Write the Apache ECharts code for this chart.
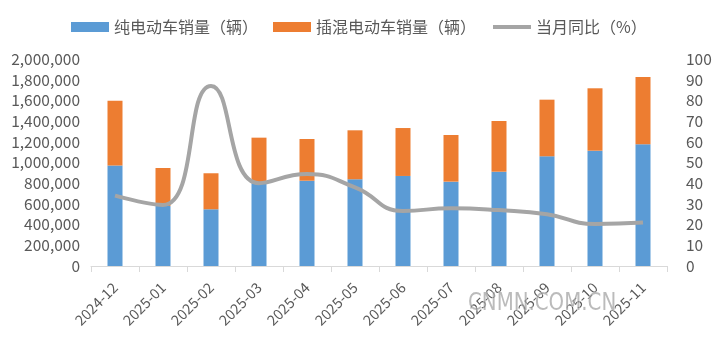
<!DOCTYPE html>
<html><head><meta charset="utf-8">
<script src="https://cdn.jsdelivr.net/npm/echarts@6/dist/echarts.min.js"></script>
<style>html,body{margin:0;padding:0;background:#fff}#c{width:720px;height:339px}</style>
</head><body><div id="c"></div>
<script>
const categories = ['2024-12','2025-01','2025-02','2025-03','2025-04','2025-05','2025-06','2025-07','2025-08','2025-09','2025-10','2025-11'];
const bevSales = [970000,580000,548000,799000,824000,838000,870000,815000,911000,1060000,1114000,1176000];
const phevSales = [627000,367000,348000,441000,403000,473000,463000,451000,490000,547000,603000,650000];
const yoyPct = [34,29.5,87,40,44.4,38,26.6,27.9,27,25,20.3,21];
const leftTicks = [0,2000000,200000];
const rightTicks = [0,100,10];
const names = ['纯电动车销量（辆）','插混电动车销量（辆）','当月同比（%）'];

const font = '"Noto Sans CJK SC", "Noto Sans", sans-serif';
const chart = echarts.init(document.getElementById('c'));
chart.setOption({
  animation:false,
  textStyle:{fontFamily:font},
  legend:{
    top:14, left:66, itemWidth:38, itemHeight:10, itemGap:15,
    textStyle:{fontSize:16, color:'#595959', fontFamily:font},
    data:[{name:names[0],icon:'rect'},{name:names[1],icon:'rect'},
          {name:names[2], itemStyle:{opacity:0}, lineStyle:{width:4, color:'#A5A5A5'}}]
  },
  grid:{left:91, right:53, top:59, bottom:73},
  xAxis:{
    type:'category', data:categories, boundaryGap:true,
    axisLine:{lineStyle:{color:'#D9D9D9'}},
    axisTick:{show:true, length:6, lineStyle:{color:'#D9D9D9'}},
    axisLabel:{rotate:45, fontSize:14.5, color:'#595959', margin:19, interval:0, fontFamily:font}
  },
  yAxis:[
    {type:'value', min:leftTicks[0], max:leftTicks[1], interval:leftTicks[2],
     splitLine:{show:false}, axisLine:{show:false}, axisTick:{show:false},
     axisLabel:{fontSize:15.5, color:'#595959', margin:11, fontFamily:font,
       formatter:v=>v.toLocaleString('en-US')}},
    {type:'value', min:rightTicks[0], max:rightTicks[1], interval:rightTicks[2],
     splitLine:{show:false}, axisLine:{show:false}, axisTick:{show:false},
     axisLabel:{fontSize:15.5, color:'#595959', margin:19, fontFamily:font}}
  ],
  series:[
    {name:names[0], type:'bar', stack:'s', data:bevSales, barWidth:15, itemStyle:{color:'#5B9BD5'}},
    {name:names[1], type:'bar', stack:'s', data:phevSales, barWidth:15, itemStyle:{color:'#ED7D31'}},
    {name:names[2], type:'line', yAxisIndex:1, data:yoyPct, smooth:0.5, symbol:'none',
     lineStyle:{color:'#A5A5A5', width:4}, itemStyle:{color:'#A5A5A5'}}
  ],
  graphic:[{type:'text', x:468, y:291, scaleX:0.88, z:100, style:{text:'CNMN.COM.CN', fontSize:25, fill:'rgba(150,150,150,0.65)', stroke:'rgba(255,255,255,0.5)', lineWidth:1, fontFamily:'"DejaVu Sans Condensed", "Liberation Sans Narrow", sans-serif'}}]
});
</script></body></html>
